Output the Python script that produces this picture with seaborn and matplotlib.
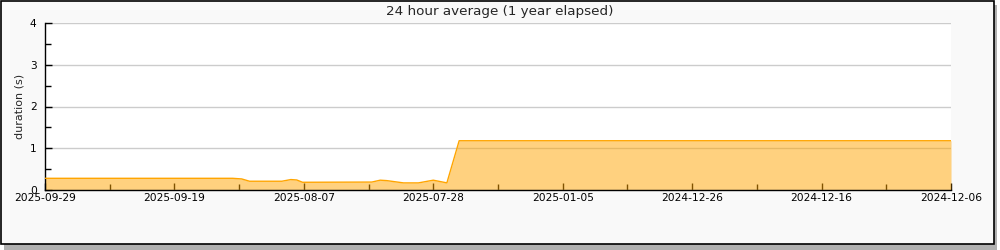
import matplotlib
matplotlib.use("Agg")
import matplotlib.pyplot as plt
from matplotlib.patches import Rectangle
import numpy as np
import pandas as pd
import seaborn as sns

# ---- data ----
title = "24 hour average (1 year elapsed)"
y_label = "duration (s)"
tick_labels = ["2025-09-29", "2025-09-19", "2025-08-07", "2025-07-28",
               "2025-01-05", "2024-12-26", "2024-12-16", "2024-12-06"]
# sample position along the (categorical) time axis, 0..140, and duration in seconds
sample_pos = [0, 29.0, 30.4, 31.6, 36.6, 38.0, 38.9, 39.8, 50.5, 51.8, 52.8,
              55.4, 57.7, 60.0, 61.8, 62.1, 64.0, 140]
duration = [0.28, 0.28, 0.265, 0.21, 0.21, 0.25, 0.24, 0.185, 0.19, 0.235, 0.225,
            0.17, 0.17, 0.235, 0.18, 0.17, 1.18, 1.18]

df = pd.DataFrame({"pos": sample_pos, "duration": duration})

sns.set_theme(style="white")
plt.rcParams["font.family"] = ["DejaVu Sans"]

fig = plt.figure(figsize=(10, 2.5), dpi=100)
fig.patch.set_facecolor("white")
# shadow + framed background
fig.add_artist(Rectangle((0.004, -0.01), 0.993, 0.99, transform=fig.transFigure,
                         facecolor="#b0b0b0", edgecolor="none", zorder=-3))
fig.add_artist(Rectangle((0.001, 0.026), 0.993, 0.972, transform=fig.transFigure,
                         facecolor="#f9f9f9", edgecolor="black", linewidth=1.2, zorder=-2))

ax = fig.add_axes([0.045, 0.24, 0.906, 0.668])
ax.set_facecolor("white")

ax.fill_between(df["pos"], df["duration"], 0, color="#ffa500", alpha=0.5,
                linewidth=0, zorder=2)
sns.lineplot(data=df, x="pos", y="duration", ax=ax, color="#ffa500",
             linewidth=1.0, zorder=3)

ax.set_xlim(0, 140)
ax.set_ylim(0, 4)
ax.set_xticks(np.arange(0, 141, 20))
ax.set_xticklabels(tick_labels)
ax.set_xticks(np.arange(10, 141, 20), minor=True)
ax.set_yticks([0, 1, 2, 3, 4])
ax.set_yticks([0.5, 1.5, 2.5, 3.5], minor=True)
ax.tick_params(axis="both", which="both", direction="in", colors="black",
               labelsize=7.7, pad=2)
ax.tick_params(axis="y", which="both", pad=6)
ax.tick_params(axis="both", which="major", length=5, width=1)
ax.tick_params(axis="both", which="minor", length=4, width=1)
ax.tick_params(axis="y", which="both", left=True)
ax.tick_params(axis="x", which="both", bottom=True)

ax.grid(axis="y", which="major", color="#cccccc", linewidth=1, zorder=1)
ax.set_axisbelow(True)
for s in ["top", "right"]:
    ax.spines[s].set_visible(False)
for s in ["left", "bottom"]:
    ax.spines[s].set_color("black")
    ax.spines[s].set_linewidth(1)

ax.set_xlabel("")
ax.set_ylabel(y_label, fontsize=8, labelpad=4)
fig.text(0.5, 0.955, title, ha="center", va="center", fontsize=9.7)

fig.savefig("out.png", dpi=100)
